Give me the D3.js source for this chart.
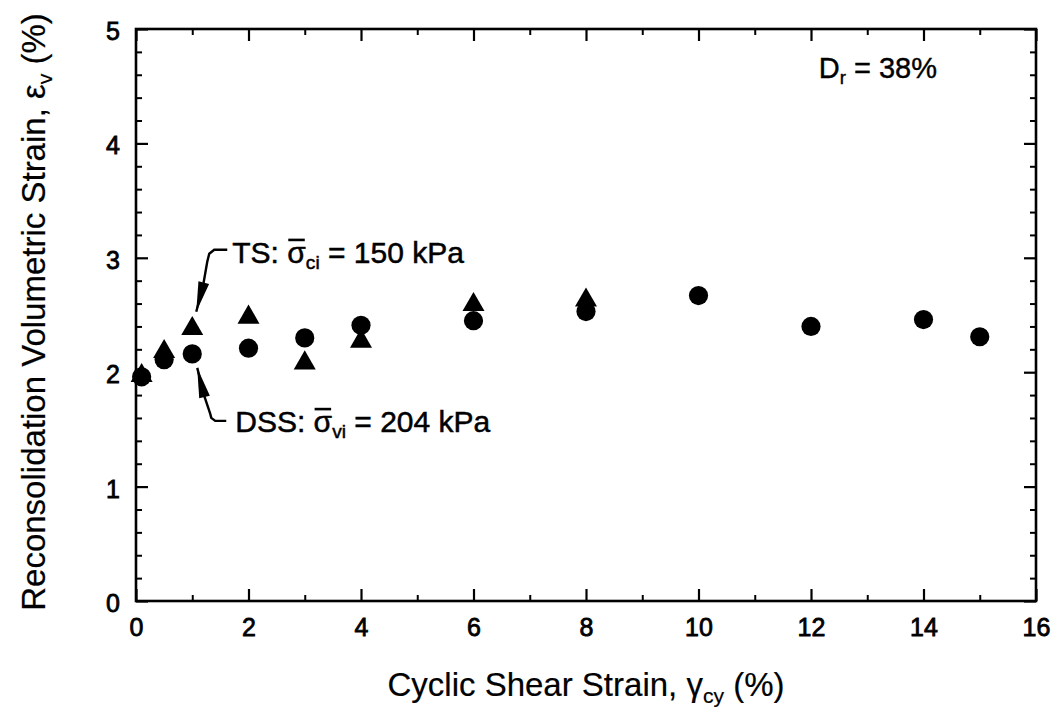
<!DOCTYPE html>
<html>
<head>
<meta charset="utf-8">
<script src="https://cdn.jsdelivr.net/npm/d3@7"></script>
<style>
  body { margin: 0; background: #fff; }
  svg text { font-family: "Liberation Sans", Arial, Helvetica, sans-serif; fill: #000; }
</style>
</head>
<body>
<div id="chart"></div>
<script>
// data
var tsStrain   = [0.1, 0.5, 1, 2, 3, 4, 6, 8];
var tsVolStr   = [1.97, 2.18, 2.38, 2.48, 2.08, 2.27, 2.59, 2.63];
var dssStrain  = [0.1, 0.5, 1, 2, 3, 4, 6, 8, 10, 12, 14, 15];
var dssVolStr  = [1.96, 2.11, 2.16, 2.21, 2.30, 2.41, 2.45, 2.53, 2.67, 2.40, 2.46, 2.31];
var xTicks = [0, 2, 4, 6, 8, 10, 12, 14, 16];
var yTicks = [0, 1, 2, 3, 4, 5];

// set the dimensions and margins of the graph
var margin = {top: 29, right: 23, bottom: 116, left: 136},
    width = 1059 - margin.left - margin.right,
    height = 717 - margin.top - margin.bottom;

var svg = d3.select("#chart")
  .append("svg")
    .attr("width", 1059)
    .attr("height", 717)
  .append("g")
    .attr("transform", "translate(" + margin.left + "," + margin.top + ")");

var x = d3.scaleLinear().domain([0, 16]).range([0, width]);
var y = d3.scaleLinear().domain([0, 5]).range([height, 0]);

var xMinor = d3.range(0, 17, 1).filter(function(d) { return d % 2 != 0; });
var yMinor = d3.range(0, 25).map(function(i) { return i * 0.2; }).filter(function(d, i) { return i % 5 != 0; });

// axes, ticks pointing inward on all four sides
function addAxis(makeAxis, scale, tr, major, minor, labels) {
  var g = svg.append("g").attr("transform", tr);
  g.call(makeAxis(scale)
      .tickValues(major).tickSize(-12).tickPadding(labels ? 16 : 0)
      .tickFormat(labels ? d3.format("d") : function() { return ""; }));
  g.select(".domain").remove();
  g.selectAll("line").attr("stroke", "#000").attr("stroke-width", 2.2);
  var m = svg.append("g").attr("transform", tr);
  m.call(makeAxis(scale).tickValues(minor).tickSize(-6).tickFormat(function() { return ""; }));
  m.select(".domain").remove();
  m.selectAll("line").attr("stroke", "#000").attr("stroke-width", 2);
  return g;
}

var gx = addAxis(d3.axisBottom, x, "translate(0," + height + ")", xTicks, xMinor, true);
gx.attr("font-size", 25).attr("font-family", null);
gx.selectAll("text").attr("y", 17);
addAxis(d3.axisTop, x, "translate(0,0)", xTicks, xMinor, false);
var gy = addAxis(d3.axisLeft, y, "translate(0,0)", yTicks, yMinor, true);
gy.attr("font-size", 25).attr("font-family", null);
gy.selectAll("text").attr("x", -16).attr("dy", "0.42em");
addAxis(d3.axisRight, y, "translate(" + width + ",0)", yTicks, yMinor, false);

svg.selectAll(".tick text")
  .attr("stroke", "#000").attr("stroke-width", 0.8);

// frame
svg.append("rect")
  .attr("width", width).attr("height", height)
  .attr("fill", "none").attr("stroke", "#000").attr("stroke-width", 2.6);

// points
svg.append("g").selectAll("path")
  .data(tsStrain)
  .enter().append("path")
    .attr("d", d3.symbol(d3.symbolTriangle).size(210))
    .attr("transform", function(d, i) { return "translate(" + x(d) + "," + y(tsVolStr[i]) + ")"; })
    .attr("fill", "#000");

svg.append("g").selectAll("circle")
  .data(dssStrain)
  .enter().append("circle")
    .attr("cx", function(d) { return x(d); })
    .attr("cy", function(d, i) { return y(dssVolStr[i]); })
    .attr("r", 9.6)
    .attr("fill", "#000");

// helper: text with sub/overline pieces
function richText(g, px, py, parts, size, anchor, sw) {
  var t = g.append("text")
    .attr("x", px).attr("y", py)
    .attr("font-size", size + "px")
    .attr("text-anchor", anchor || "start");
  if (sw) t.attr("stroke", "#000").attr("stroke-width", sw);
  var shift = 0, idx = 0, bars = [];
  parts.forEach(function(p) {
    var ts = t.append("tspan").text(p.t);
    if (p.sub) {
      ts.attr("font-size", (size * 0.64) + "px").attr("dy", (size * 0.22) - shift);
      shift = size * 0.22;
    } else if (shift) {
      ts.attr("dy", -shift);
      shift = 0;
    }
    if (p.bar) bars.push(idx);
    idx += p.t.length;
  });
  bars.forEach(function(i) {
    var e = t.node().getExtentOfChar(i);
    g.append("line")
      .attr("x1", e.x + 1).attr("x2", e.x + e.width - 1)
      .attr("y1", py - size * 0.76).attr("y2", py - size * 0.76)
      .attr("stroke", "#000").attr("stroke-width", 2.6);
  });
  return t;
}

// leader with arrow head
function leader(g, pts) {
  g.append("path")
    .attr("d", d3.line()(pts))
    .attr("fill", "none").attr("stroke", "#000").attr("stroke-width", 2.4);
  var tip = pts[0], base = pts[1];
  var dx = base[0] - tip[0], dy = base[1] - tip[1], L = Math.sqrt(dx * dx + dy * dy);
  var ux = dx / L, uy = dy / L, hl = 30, hw = 5.5;
  var bx = tip[0] + ux * hl, by = tip[1] + uy * hl;
  g.append("path")
    .attr("d", "M" + tip[0] + "," + tip[1] +
               "L" + (bx - uy * hw) + "," + (by + ux * hw) +
               "L" + (bx + uy * hw) + "," + (by - ux * hw) + "Z")
    .attr("fill", "#000");
}

var notes = svg.append("g");

// TS note, anchored on the TS point at 1 %
var ax = x(tsStrain[2]), ay = y(tsVolStr[2]);
leader(notes, [[ax + 4, ay - 17], [ax + 11, ay - 44], [ax + 15, ay - 67],
               [ax + 17, ay - 75], [ax + 22, ay - 79], [ax + 35, ay - 79]]);
richText(notes, ax + 40, ay - 66,
  [{t: "TS: "}, {t: "σ", bar: true}, {t: "ci", sub: true}, {t: " = 150 kPa"}], 30, "start", 0.5);

// DSS note, anchored on the DSS point at 1 %
var bx = x(dssStrain[2]), by = y(dssVolStr[2]);
leader(notes, [[bx + 5, by + 14], [bx + 12, by + 42], [bx + 18, by + 60],
               [bx + 19, by + 64], [bx + 23, by + 67], [bx + 34, by + 67]]);
richText(notes, bx + 43, by + 78,
  [{t: "DSS: "}, {t: "σ", bar: true}, {t: "vi", sub: true}, {t: " = 204 kPa"}], 30, "start", 0.5);

// relative density
richText(svg, 937 - margin.left, 78 - margin.top,
  [{t: "D"}, {t: "r", sub: true}, {t: " = 38%"}], 29, "end", 0.4);

// axis titles
richText(svg, width / 2, 696 - margin.top,
  [{t: "Cyclic Shear Strain, γ"}, {t: "cy", sub: true}, {t: " (%)"}], 33, "middle", 0.2);

var yt = svg.append("g").attr("transform", "translate(" + (45 - margin.left) + "," + (312 - margin.top) + ")rotate(-90)");
richText(yt, 0, 0,
  [{t: "Reconsolidation Volumetric Strain, ε"}, {t: "v", sub: true}, {t: " (%)"}], 33, "middle", 0.2);
</script>
</body>
</html>
